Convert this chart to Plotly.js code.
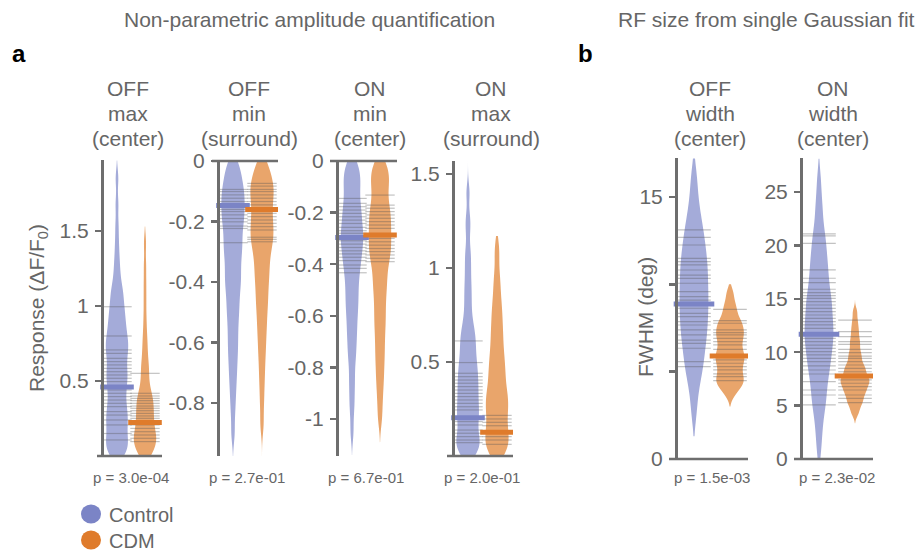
<!DOCTYPE html>
<html>
<head>
<meta charset="utf-8">
<script src="https://cdn.plot.ly/plotly-3.0.1.min.js"></script>
<style>html,body{margin:0;padding:0;background:#fff;}#chart{width:921px;height:554px;}</style>
</head>
<body>
<div id="chart"></div>
<script>
// ---------- data ----------
const panelTitles = [['OFF', 'max', '(center)'], ['OFF', 'min', '(surround)'], ['ON', 'min', '(center)'], ['ON', 'max', '(surround)'], ['OFF', 'width', '(center)'], ['ON', 'width', '(center)']];
const pValues = ['p = 3.0e-04', 'p = 2.7e-01', 'p = 6.7e-01', 'p = 2.0e-01', 'p = 1.5e-03', 'p = 2.3e-02'];
const groups = ['Control', 'CDM'];

// Panel 1: OFF max (center)
const offMaxCtrlLines = [0.995, 0.80, 0.707, 0.684, 0.651, 0.629, 0.607, 0.584, 0.562, 0.540, 0.518, 0.496, 0.44, 0.418, 0.396, 0.373, 0.351, 0.329, 0.296, 0.273, 0.24, 0.207, 0.15, 0.107];
const offMaxCtrlExtra = [0.005, 0.015, 0.03, 0.045, 0.06, 0.08, 0.095, 0.125, 0.17, 0.19, 0.225, 0.26, 0.31, 0.465, 0.475, 0.55, 0.67, 0.72, 0.735, 0.75, 0.77, 0.785, 0.82, 0.845, 0.87, 0.885, 0.9, 0.93, 0.96, 0.98, 1.03, 1.07, 1.09, 1.11, 1.16, 1.21, 1.27, 1.34, 1.43, 1.54, 1.68, 1.85];
const offMaxCdmLines = [0.551, 0.418, 0.400, 0.384, 0.369, 0.351, 0.333, 0.318, 0.302, 0.284, 0.267, 0.251, 0.23, 0.207, 0.184, 0.162, 0.140, 0.118, 0.096];
const offMaxCdmExtra = [0.005, 0.015, 0.03, 0.045, 0.06, 0.075, 0.088, 0.11, 0.13, 0.15, 0.22, 0.44, 0.47, 0.52, 0.58, 0.62, 0.66, 0.72, 0.77, 0.84, 0.93, 1.04, 1.15, 1.27, 1.42];

// Panel 2: OFF min (surround)
const offMinCtrlLines = [-0.094, -0.101, -0.112, -0.123, -0.134, -0.160, -0.167, -0.178, -0.190, -0.201, -0.215, -0.223, -0.270];
const offMinCtrlExtra = [-0.005, -0.02, -0.035, -0.05, -0.065, -0.08, -0.145, -0.24, -0.26, -0.28, -0.295, -0.31, -0.325, -0.34, -0.36, -0.375, -0.39, -0.405, -0.42, -0.44, -0.46, -0.48, -0.5, -0.52, -0.545, -0.57, -0.595, -0.62, -0.645, -0.675, -0.705, -0.74, -0.78, -0.83, -0.9];
const offMinCdmLines = [-0.074, -0.083, -0.094, -0.101, -0.112, -0.123, -0.134, -0.145, -0.173, -0.184, -0.195, -0.206, -0.217, -0.228, -0.252, -0.259, -0.267];
const offMinCdmExtra = [-0.005, -0.02, -0.035, -0.05, -0.062, -0.16, -0.24, -0.28, -0.295, -0.31, -0.325, -0.34, -0.36, -0.375, -0.39, -0.41, -0.43, -0.45, -0.47, -0.49, -0.515, -0.54, -0.565, -0.595, -0.625, -0.66, -0.7, -0.745, -0.8, -0.87];

// Panel 3: ON min (center)
const onMinCtrlLines = [-0.145, -0.164, -0.177, -0.190, -0.203, -0.216, -0.229, -0.242, -0.257, -0.270, -0.280, -0.309, -0.322, -0.335, -0.348, -0.360, -0.373, -0.386, -0.403, -0.416, -0.433];
const onMinCtrlExtra = [-0.005, -0.02, -0.035, -0.05, -0.065, -0.08, -0.095, -0.11, -0.125, -0.29, -0.30, -0.45, -0.47, -0.49, -0.51, -0.53, -0.55, -0.57, -0.59, -0.615, -0.64, -0.665, -0.69, -0.72, -0.75, -0.78, -0.83, -0.87, -0.92, -0.97, -1.05];
const onMinCdmLines = [-0.132, -0.171, -0.183, -0.196, -0.209, -0.222, -0.235, -0.248, -0.261, -0.300, -0.313, -0.326, -0.339, -0.351, -0.364, -0.377, -0.390];
const onMinCdmExtra = [-0.005, -0.02, -0.035, -0.05, -0.065, -0.08, -0.095, -0.11, -0.15, -0.275, -0.287, -0.41, -0.43, -0.45, -0.47, -0.49, -0.51, -0.535, -0.56, -0.585, -0.61, -0.635, -0.66, -0.69, -0.72, -0.75, -0.78, -0.815, -0.85, -0.89, -0.94, -1.0];

// Panel 4: ON max (surround)
const onMaxCtrlLines = [0.612, 0.497, 0.440, 0.422, 0.404, 0.387, 0.369, 0.351, 0.333, 0.316, 0.298, 0.280, 0.262, 0.245, 0.183, 0.165, 0.138, 0.121, 0.103, 0.085, 0.071];
const onMaxCtrlExtra = [0.005, 0.02, 0.035, 0.05, 0.06, 0.195, 0.215, 0.228, 0.46, 0.48, 0.52, 0.54, 0.57, 0.59, 0.635, 0.66, 0.69, 0.72, 0.77, 0.82, 0.87, 0.92, 0.98, 1.04, 1.1, 1.2, 1.27, 1.4];
const onMaxCdmLines = [0.216, 0.197, 0.179, 0.161, 0.103, 0.085, 0.062];
const onMaxCdmExtra = [0.005, 0.015, 0.03, 0.045, 0.075, 0.115, 0.13, 0.145, 0.23, 0.245, 0.26, 0.275, 0.29, 0.305, 0.32, 0.335, 0.35, 0.37, 0.39, 0.41, 0.43, 0.45, 0.47, 0.49, 0.515, 0.535, 0.56, 0.585, 0.615, 0.64, 0.67, 0.695, 0.73, 0.76, 0.79, 0.83, 0.87, 0.92, 0.97, 1.05, 1.12];

// Panel 5: OFF width (center), FWHM deg
const offWidthCtrlLines = [13.11, 12.69, 12.25, 11.49, 11.30, 11.11, 10.82, 10.53, 10.34, 10.06, 9.58, 9.29, 9.10, 8.63, 8.34, 8.15, 7.86, 7.67, 7.39, 7.10, 6.81, 6.62, 6.34, 5.57, 5.29];
const offWidthCtrlExtra = [2.6, 3.7, 4.4, 4.9, 5.9, 8.9, 9.8, 11.8, 12.4, 13.5, 13.9, 14.5, 15.3, 16.3];
const offWidthCdmLines = [8.57, 7.92, 7.77, 7.39, 7.23, 7.10, 6.91, 6.72, 6.53, 6.28, 5.67, 5.48, 5.29, 5.10, 4.87, 4.71, 4.49];
const offWidthCdmExtra = [3.7, 4.05, 4.25, 4.4, 5.8, 5.95, 6.1, 7.6, 8.2, 8.9, 9.5];

// Panel 6: ON width (center), FWHM deg
const onWidthCtrlLines = [21.07, 20.88, 20.19, 17.70, 16.92, 16.51, 15.89, 15.57, 15.29, 15.04, 14.73, 14.42, 14.11, 13.79, 13.48, 13.17, 12.86, 12.55, 12.23, 11.30, 10.99, 10.67, 10.36, 10.05, 9.74, 9.43, 9.11, 8.71, 8.33, 7.96, 7.24, 6.46, 5.99, 5.06];
const onWidthCtrlExtra = [0.8, 2.3, 3.4, 4.4, 5.5, 7.6, 11.5, 11.8, 12.0, 17.3, 18.1, 18.6, 19.1, 19.6, 22.3, 23.3, 24.4, 26.2];
const onWidthCdmLines = [13.01, 11.92, 11.45, 10.99, 10.74, 10.27, 9.95, 9.64, 9.43, 9.11, 8.80, 8.49, 8.17, 7.40, 7.09, 6.77, 6.46, 5.99, 5.68, 5.27];
const onWidthCdmExtra = [4.2, 4.6, 5.05, 5.45, 6.1, 6.3, 6.6, 6.9, 7.2, 7.3, 7.5, 7.65, 7.8, 7.95, 8.35, 8.65, 12.4, 13.8];

// medians (thick coloured bars)
const medCtrl = [0.46, -0.147, -0.296, 0.204, 8.87, 11.67];
const medCdm = [0.224, -0.160, -0.287, 0.126, 5.90, 7.77];

// violin extent (min, max) per group
const spanCtrl = [[0, 1.97], [-0.975, 0], [-1.14, 0], [0, 1.57], [1.3, 17.2], [0, 28.1]];
const spanCdm = [[0, 1.53], [-0.975, 0], [-1.09, 0], [0, 1.17], [3.0, 10.0], [3.34, 14.9]];

// y tick values / labels (minor = unlabelled ticks)
const yTickVals = [[0.5, 1, 1.5], [0, -0.2, -0.4, -0.6, -0.8], [0, -0.2, -0.4, -0.6, -0.8, -1], [0.5, 1, 1.5], [0, 15], [0, 5, 10, 15, 20, 25]];
const yTickText = [['0.5', '1', '1.5'], ['0', '-0.2', '-0.4', '-0.6', '-0.8'], ['0', '-0.2', '-0.4', '-0.6', '-0.8', '-1'], ['0.5', '1', '1.5'], ['0', '15'], ['0', '5', '10', '15', '20', '25']];
const yMinorVals = [[], [], [], [], [5, 10], []];

// ---------- styling / layout (pixels) ----------
const W = 921, H = 554;
const COL_CTRL = '#7b84c6', COL_CDM = '#df7b2b';
const FILL_CTRL = '#a4abd9', FILL_CDM = '#e9a56b';
const AX = '#6e6e6e', TXT = '#666666';
const FONT = 'Liberation Sans, Arial, Helvetica, sans-serif';

const panels = [
  {xd: [97, 162], yp: 102, yd: [160, 456], xr: [-0.714, 1.607], yr: [0, 1.973], bw: [0.06, 0.06], lw: 21, mw: 24},
  {xd: [212, 278], yp: 218, yd: [161, 456], xr: [-0.724, 1.552], yr: [-0.975, 0], bw: [0.035, 0.035], lw: 21, mw: 24},
  {xd: [330, 397], yp: 337, yd: [161, 456], xr: [-0.786, 1.607], yr: [-1.143, 0], bw: [0.04, 0.04], lw: 21, mw: 24},
  {xd: [447, 513], yp: 453, yd: [161, 456], xr: [-0.724, 1.552], yr: [0, 1.569], bw: [0.05, 0.05], lw: 21, mw: 24},
  {xd: [669, 748], yp: 676, yd: [158, 459], xr: [-0.694, 1.5], yr: [0, 17.23], bw: [0.8, 0.35], lw: 24, mw: 29},
  {xd: [794, 873], yp: 801, yd: [158, 459], xr: [-0.694, 1.5], yr: [0, 28.18], bw: [1.2, 0.4], lw: 24, mw: 29}
];
const titleShift = [-3, 2, 4, 9, -2, -4];
const titleLineY = [88, 113, 138];
const legendY = [514, 540];

const linesCtrl = [offMaxCtrlLines, offMinCtrlLines, onMinCtrlLines, onMaxCtrlLines, offWidthCtrlLines, onWidthCtrlLines];
const extraCtrl = [offMaxCtrlExtra, offMinCtrlExtra, onMinCtrlExtra, onMaxCtrlExtra, offWidthCtrlExtra, onWidthCtrlExtra];
const linesCdm = [offMaxCdmLines, offMinCdmLines, onMinCdmLines, onMaxCdmLines, offWidthCdmLines, onWidthCdmLines];
const extraCdm = [offMaxCdmExtra, offMinCdmExtra, onMinCdmExtra, onMaxCdmExtra, offWidthCdmExtra, onWidthCdmExtra];

const traces = [];
const layout = {
  width: W, height: H, margin: {l: 0, r: 0, t: 0, b: 0},
  paper_bgcolor: '#fff', plot_bgcolor: 'rgba(0,0,0,0)',
  font: {family: FONT, color: TXT, size: 20},
  violinmode: 'overlay',
  showlegend: false,
  annotations: [], shapes: []
};

panels.forEach((p, i) => {
  const n = i + 1;
  const xa = 'x' + (n === 1 ? '' : n), ya = 'y' + (n === 1 ? '' : n);
  layout['xaxis' + (n === 1 ? '' : n)] = {
    domain: [p.xd[0] / W, p.xd[1] / W], range: p.xr, anchor: ya,
    showline: false, ticks: '', showticklabels: false,
    showgrid: false, zeroline: false, fixedrange: true
  };
  const yax = {
    domain: [1 - p.yd[1] / H, 1 - p.yd[0] / H], range: p.yr, anchor: 'free', position: p.yp / W,
    showline: true, linecolor: AX, linewidth: 2.5, ticks: 'outside', ticklen: 6, tickwidth: 2.5, tickcolor: AX,
    tickmode: 'array', tickvals: yTickVals[i], ticktext: yTickText[i], tickfont: {size: 21, color: TXT},
    ticklabelstandoff: 2, showgrid: false, zeroline: false, fixedrange: true
  };
  if (yMinorVals[i].length) {
    yax.minor = {tickmode: 'array', tickvals: yMinorVals[i], ticks: 'outside', ticklen: 6, tickwidth: 2.5, tickcolor: AX, showgrid: false};
  }
  layout['yaxis' + (n === 1 ? '' : n)] = yax;

  // baseline spine at value 0 (bottom edge for positive panels, top edge for negative ones)
  const baseY = p.yr[0] === 0 ? p.yd[1] : p.yd[0];
  layout.shapes.push({type: 'line', xref: 'paper', yref: 'paper', x0: p.xd[0] / W, x1: p.xd[1] / W,
    y0: 1 - baseY / H, y1: 1 - baseY / H, line: {color: AX, width: 2.5}, layer: 'above'});

  const sets = [
    {lines: linesCtrl[i], extra: extraCtrl[i], pos: 0, fill: FILL_CTRL, span: spanCtrl[i], bw: p.bw[0], name: groups[0]},
    {lines: linesCdm[i], extra: extraCdm[i], pos: 1, fill: FILL_CDM, span: spanCdm[i], bw: p.bw[1], name: groups[1]}
  ];
  sets.forEach(s => {
    traces.push({
      type: 'violin', x0: s.pos, y: s.lines.concat(s.extra), xaxis: xa, yaxis: ya, name: s.name,
      width: 0.8, points: false, box: {visible: false}, meanline: {visible: false},
      line: {width: 0, color: 'rgba(0,0,0,0)'}, fillcolor: s.fill, opacity: 1,
      spanmode: 'manual', span: s.span, bandwidth: s.bw, scalemode: 'width',
      hoverinfo: 'skip', showlegend: false
    });
  });
  sets.forEach(s => {
    traces.push({
      type: 'scatter', mode: 'markers', x: s.lines.map(() => s.pos), y: s.lines, xaxis: xa, yaxis: ya,
      marker: {symbol: 'line-ew', size: p.lw, color: 'rgba(0,0,0,0)', line: {width: 1.2, color: 'rgba(85,85,85,0.36)'}},
      hoverinfo: 'skip', showlegend: false
    });
  });
  traces.push({
    type: 'scatter', mode: 'markers', x: [0, 1], y: [medCtrl[i], medCdm[i]], xaxis: xa, yaxis: ya,
    marker: {symbol: 'line-ew', size: p.mw, color: 'rgba(0,0,0,0)', line: {width: 5, color: [COL_CTRL, COL_CDM]}},
    hoverinfo: 'skip', showlegend: false
  });
  // column title lines and p value, centred between the two violins
  panelTitles[i].forEach((t, k) => {
    layout.annotations.push({xref: xa, yref: 'paper', x: 0.5, y: 1 - titleLineY[k] / H, xshift: titleShift[i], text: t,
      showarrow: false, xanchor: 'center', yanchor: 'middle', font: {size: 21, color: TXT}});
  });
  layout.annotations.push({xref: xa, yref: 'paper', x: 0.5, y: 1 - 477 / H, text: pValues[i],
    showarrow: false, xanchor: 'center', yanchor: 'middle', font: {size: 15, color: TXT}});
});

layout.yaxis.title = {text: 'Response (ΔF/F<sub>0</sub>)', font: {size: 21, color: TXT}, standoff: 8};
layout.annotations.push({xref: 'paper', yref: 'paper', x: 645 / W, y: 1 - 317 / H, text: 'FWHM (deg)', textangle: -90,
  showarrow: false, xanchor: 'center', yanchor: 'middle', font: {size: 21, color: TXT}});

// legend: coloured dots with group names
groups.forEach((g, k) => {
  const c = k === 0 ? COL_CTRL : COL_CDM;
  layout.shapes.push({type: 'circle', xref: 'paper', yref: 'paper', xsizemode: 'pixel', ysizemode: 'pixel',
    xanchor: 91 / W, yanchor: 1 - legendY[k] / H, x0: -10, x1: 10, y0: -9.5, y1: 9.5,
    fillcolor: c, line: {width: 0}});
  layout.annotations.push({xref: 'paper', yref: 'paper', x: 107 / W, y: 1 - (legendY[k] + 1) / H, text: g,
    showarrow: false, xanchor: 'left', yanchor: 'middle', font: {size: 20, color: TXT}});
});

// section headings and panel letters
layout.annotations.push({xref: 'paper', yref: 'paper', x: 309 / W, y: 1 - 20 / H, text: 'Non-parametric amplitude quantification',
  showarrow: false, xanchor: 'center', yanchor: 'middle', font: {size: 21, color: TXT}});
layout.annotations.push({xref: 'paper', yref: 'paper', x: 917 / W, y: 1 - 20 / H, text: 'RF size from single Gaussian fit',
  showarrow: false, xanchor: 'right', yanchor: 'middle', font: {size: 21, color: TXT}});
layout.annotations.push({xref: 'paper', yref: 'paper', x: 19 / W, y: 1 - 53 / H, text: '<b>a</b>',
  showarrow: false, xanchor: 'center', yanchor: 'middle', font: {size: 24, color: '#000'}});
layout.annotations.push({xref: 'paper', yref: 'paper', x: 585 / W, y: 1 - 53 / H, text: '<b>b</b>',
  showarrow: false, xanchor: 'center', yanchor: 'middle', font: {size: 24, color: '#000'}});

Plotly.newPlot('chart', traces, layout, {staticPlot: true, displayModeBar: false});
</script>
</body>
</html>
